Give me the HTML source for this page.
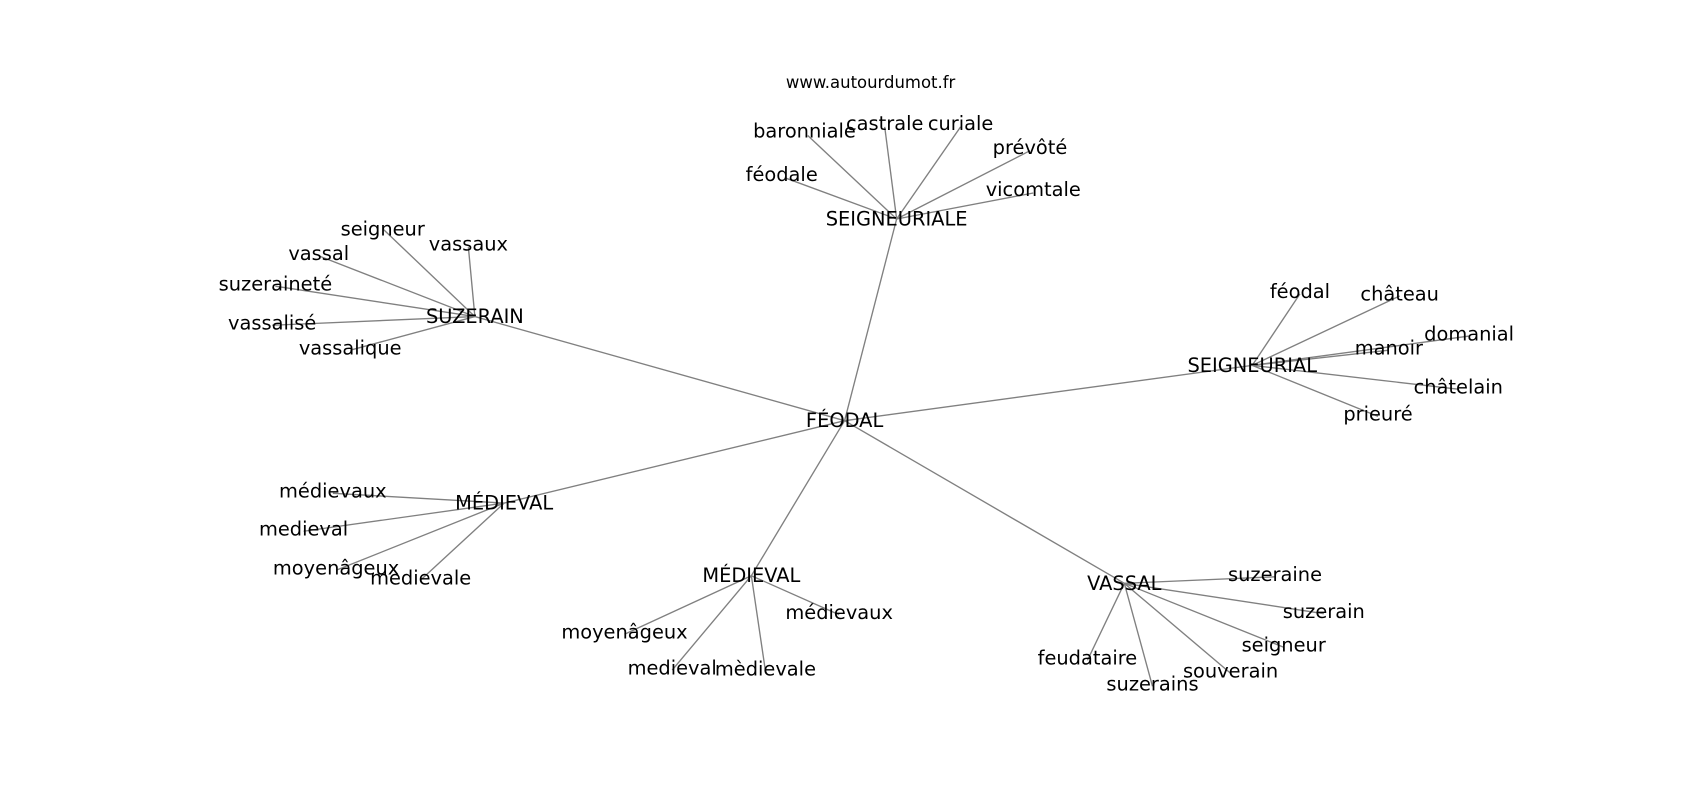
<!DOCTYPE html>
<html><head><meta charset="utf-8"><style>
html,body{margin:0;padding:0;background:#fff;}
svg text{font-family:"DejaVu Sans","Liberation Sans",sans-serif;fill:#000;}
</style></head><body>
<svg width="1700" height="800" viewBox="0 0 1700 800" xmlns="http://www.w3.org/2000/svg">
<g transform="scale(1.0842)">
<g stroke="#808080" stroke-width="1.25" fill="none">
<line x1="779" y1="388" x2="827" y2="202"/>
<line x1="779" y1="388" x2="438" y2="292"/>
<line x1="779" y1="388" x2="1155" y2="337"/>
<line x1="779" y1="388" x2="465" y2="464"/>
<line x1="779" y1="388" x2="693" y2="531"/>
<line x1="779" y1="388" x2="1037" y2="538"/>
<line x1="827" y1="202" x2="745" y2="125"/>
<line x1="827" y1="202" x2="816" y2="117"/>
<line x1="827" y1="202" x2="886" y2="117"/>
<line x1="827" y1="202" x2="950" y2="139"/>
<line x1="827" y1="202" x2="724" y2="164"/>
<line x1="827" y1="202" x2="953" y2="178"/>
<line x1="438" y1="292" x2="353" y2="211"/>
<line x1="438" y1="292" x2="432" y2="228"/>
<line x1="438" y1="292" x2="294" y2="236"/>
<line x1="438" y1="292" x2="254" y2="264"/>
<line x1="438" y1="292" x2="251" y2="300"/>
<line x1="438" y1="292" x2="323" y2="323"/>
<line x1="1155" y1="337" x2="1199" y2="271"/>
<line x1="1155" y1="337" x2="1291" y2="273"/>
<line x1="1155" y1="337" x2="1355" y2="310"/>
<line x1="1155" y1="337" x2="1281" y2="323"/>
<line x1="1155" y1="337" x2="1345" y2="359"/>
<line x1="1155" y1="337" x2="1271" y2="384"/>
<line x1="465" y1="464" x2="307" y2="455"/>
<line x1="465" y1="464" x2="280" y2="490"/>
<line x1="465" y1="464" x2="310" y2="526"/>
<line x1="465" y1="464" x2="388" y2="535"/>
<line x1="693" y1="531" x2="576" y2="585"/>
<line x1="693" y1="531" x2="620" y2="618"/>
<line x1="693" y1="531" x2="706" y2="619"/>
<line x1="693" y1="531" x2="774" y2="567"/>
<line x1="1037" y1="538" x2="1176" y2="532"/>
<line x1="1037" y1="538" x2="1221" y2="566"/>
<line x1="1037" y1="538" x2="1184" y2="597"/>
<line x1="1037" y1="538" x2="1135" y2="621"/>
<line x1="1037" y1="538" x2="1063" y2="633"/>
<line x1="1037" y1="538" x2="1003" y2="609"/>
</g>
<g font-size="17.9" text-anchor="middle" dominant-baseline="central">
<text x="803" y="76" font-size="15.2">www.autourdumot.fr</text>
<text x="779" y="388">FÉODAL</text>
<text x="827" y="202">SEIGNEURIALE</text>
<text x="438" y="292">SUZERAIN</text>
<text x="1155" y="337">SEIGNEURIAL</text>
<text x="465" y="464">MÉDIEVAL</text>
<text x="693" y="531">MÉDIEVAL</text>
<text x="1037" y="538">VASSAL</text>

<text x="742" y="121">baronniale</text>
<text x="816" y="114">castrale</text>
<text x="886" y="114">curiale</text>
<text x="950" y="136">prévôté</text>
<text x="721" y="161">féodale</text>
<text x="953" y="175">vicomtale</text>

<text x="353" y="211">seigneur</text>
<text x="432" y="225">vassaux</text>
<text x="294" y="234">vassal</text>
<text x="254" y="262">suzeraineté</text>
<text x="251" y="298">vassalisé</text>
<text x="323" y="321">vassalique</text>

<text x="1199" y="269">féodal</text>
<text x="1291" y="271">château</text>
<text x="1355" y="308">domanial</text>
<text x="1281" y="321">manoir</text>
<text x="1345" y="357">châtelain</text>
<text x="1271" y="382">prieuré</text>

<text x="307" y="453">médievaux</text>
<text x="280" y="488">medieval</text>
<text x="310" y="524">moyenâgeux</text>
<text x="388" y="533">mèdievale</text>

<text x="576" y="583">moyenâgeux</text>
<text x="620" y="616">medieval</text>
<text x="706" y="617">mèdievale</text>
<text x="774" y="565">médievaux</text>

<text x="1176" y="530">suzeraine</text>
<text x="1221" y="564">suzerain</text>
<text x="1184" y="595">seigneur</text>
<text x="1135" y="619">souverain</text>
<text x="1063" y="631">suzerains</text>
<text x="1003" y="607">feudataire</text>
</g>
</g>
</svg>
</body></html>
